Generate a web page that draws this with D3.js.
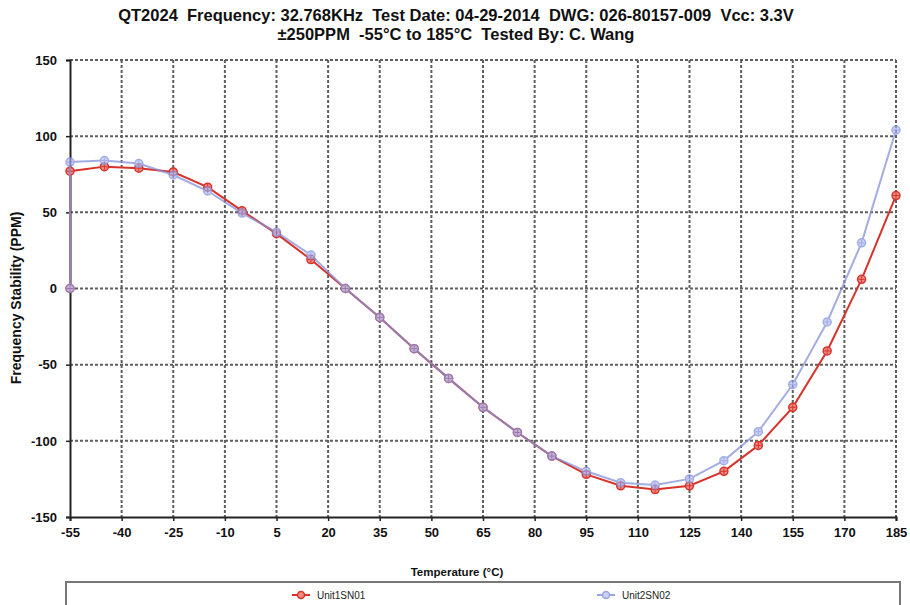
<!DOCTYPE html>
<html>
<head>
<meta charset="utf-8">
<script src="https://cdn.jsdelivr.net/npm/d3@7"></script>
<style>
    body { margin: 0; background: #fff; }
    text { font-family: "Liberation Sans", Arial, sans-serif; white-space: pre; }
</style>
</head>
<body>
<div id="chart"></div>
<script>
    // temperatures (first point is the start at 0 PPM)
    var temps = [-55, -55, -45, -35, -25, -15, -5, 5, 15, 25, 35, 45, 55, 65, 75, 85, 95, 105, 115, 125, 135, 145, 155, 165, 175, 185];
    var unit1 = [0, 77, 80, 79, 76.5, 66.5, 51, 36, 19, 0, -19, -39.5, -59, -78, -94.5, -110, -122, -129.5, -132, -129.5, -120, -103, -78, -41, 6, 61];
    var unit2 = [0, 83, 84, 82, 74.5, 64, 49.5, 37, 22, 0, -19, -39.5, -59, -78, -94.5, -110, -120, -127.5, -129, -125, -113, -94, -63, -22, 30, 104];
    var xTicks = [-55, -40, -25, -10, 5, 20, 35, 50, 65, 80, 95, 110, 125, 140, 155, 170, 185];
    var yTicks = [-150, -100, -50, 0, 50, 100, 150];
    var seriesNames = ["Unit1SN01", "Unit2SN02"];
    var titleLines = ["QT2024  Frequency: 32.768KHz  Test Date: 04-29-2014  DWG: 026-80157-009  Vcc: 3.3V",
                      "\u00b1250PPM  -55\u00b0C to 185\u00b0C  Tested By: C. Wang"];

    var width = 910;
    var height = 605;
    var mLeft = 70, mRight = 896, mTop = 60, mBottom = 517;

    var svg = d3.select("#chart")
        .append("svg")
        .attr("width", width)
        .attr("height", height);

    var x = d3.scaleLinear().domain([-55, 185]).range([mLeft, mRight]);
    var y = d3.scaleLinear().domain([-150, 150]).range([mBottom, mTop]);

    // grid
    var grid = svg.append("g");
    grid.selectAll(".vgrid")
        .data(xTicks.slice(1))
        .enter()
        .append("line")
        .attr("x1", d => x(d)).attr("x2", d => x(d))
        .attr("y1", mTop).attr("y2", mBottom)
        .style("stroke", "#5e5e5e")
        .style("stroke-width", 2)
        .style("stroke-dasharray", "3,2");
    grid.selectAll(".hgrid")
        .data(yTicks.slice(1))
        .enter()
        .append("line")
        .attr("x1", mLeft).attr("x2", mRight)
        .attr("y1", d => y(d)).attr("y2", d => y(d))
        .style("stroke", "#5e5e5e")
        .style("stroke-width", 2)
        .style("stroke-dasharray", "3,2");

    // axes
    var xAxis = svg.append("g")
        .attr("transform", "translate(0," + mBottom + ")")
        .call(d3.axisBottom(x).tickValues(xTicks).tickSize(4).tickPadding(7).tickFormat(d => String(d)));
    var yAxis = svg.append("g")
        .attr("transform", "translate(" + mLeft + ",0)")
        .call(d3.axisLeft(y).tickValues(yTicks).tickSize(4).tickPadding(9).tickFormat(d => String(d)));
    [xAxis, yAxis].forEach(function (a) {
        a.select(".domain").style("stroke", "#222").style("stroke-width", 2);
        a.selectAll(".tick line").style("stroke", "#222").style("stroke-width", 1.5);
        a.selectAll(".tick text")
            .style("font-family", "'Liberation Sans Narrow', 'Arial Narrow', 'Liberation Sans', Arial")
            .style("font-weight", "bold")
            .style("font-size", "13px")
            .style("fill", "#111");
    });

    // series
    var data1 = temps.map((t, i) => [t, unit1[i]]);
    var data2 = temps.map((t, i) => [t, unit2[i]]);
    var line = d3.line().x(d => x(d[0])).y(d => y(d[1]));

    function drawSeries(data, stroke, fill, opacity) {
        var g = svg.append("g").style("opacity", opacity);
        g.append("path")
            .attr("d", line(data))
            .style("fill", "none")
            .style("stroke", stroke)
            .style("stroke-width", 2);
        var m = g.selectAll("g.marker")
            .data(data)
            .enter()
            .append("g")
            .attr("transform", d => "translate(" + x(d[0]) + "," + y(d[1]) + ")");
        m.append("circle")
            .attr("r", 4)
            .style("fill", fill)
            .style("stroke", stroke)
            .style("stroke-width", 1.5);
        m.append("path")
            .attr("d", "M-3,0H3M0,-3V3")
            .style("stroke", stroke)
            .style("stroke-width", 1);
    }
    drawSeries(data1, "#d8332a", "#f08a84", 1);
    drawSeries(data2, "#8592dc", "#b8c2f0", 0.75);

    // titles
    svg.selectAll(".title")
        .data(titleLines)
        .enter()
        .append("text")
        .attr("x", width / 2 + 1)
        .attr("y", (d, i) => 21 + i * 19)
        .attr("text-anchor", "middle")
        .style("font-weight", "bold")
        .style("font-size", "16.5px")
        .style("fill", "#111")
        .text(d => d);

    svg.append("text")
        .attr("transform", "translate(21," + 298 + ") rotate(-90)")
        .attr("text-anchor", "middle")
        .style("font-weight", "bold")
        .style("font-size", "14px")
        .style("fill", "#111")
        .text("Frequency Stability (PPM)");

    svg.append("text")
        .attr("x", width / 2 + 2)
        .attr("y", 576)
        .attr("text-anchor", "middle")
        .style("font-weight", "bold")
        .style("font-size", "11.5px")
        .style("fill", "#111")
        .text("Temperature (\u00b0C)");

    // legend
    svg.append("rect")
        .attr("x", 66).attr("y", 582)
        .attr("width", 834).attr("height", 40)
        .style("fill", "#fff")
        .style("stroke", "#777")
        .style("stroke-width", 2);
    var legend = svg.selectAll(".legend")
        .data(seriesNames)
        .enter()
        .append("g")
        .attr("transform", (d, i) => "translate(" + (i === 0 ? 301 : 606) + ",595)");
    legend.append("line")
        .attr("x1", -9).attr("x2", 9)
        .style("stroke", (d, i) => i === 0 ? "#d8332a" : "#9aa6e4")
        .style("stroke-width", 2);
    legend.append("circle")
        .attr("r", 3.5)
        .style("fill", (d, i) => i === 0 ? "#f08a84" : "#c8cff2")
        .style("stroke", (d, i) => i === 0 ? "#d8332a" : "#9aa6e4")
        .style("stroke-width", 1.5);
    legend.append("text")
        .attr("x", 16)
        .attr("y", 3.5)
        .style("font-family", "'Liberation Sans Narrow', 'Liberation Sans', Arial")
        .style("font-size", "10px")
        .style("fill", "#222")
        .text(d => d);
</script>
</body>
</html>
